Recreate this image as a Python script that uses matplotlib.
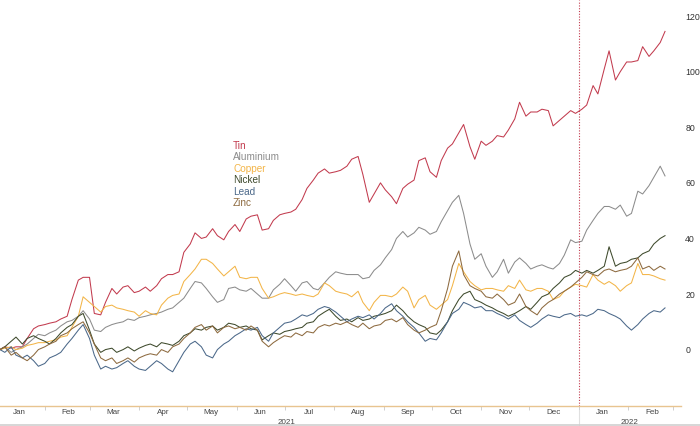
import matplotlib
matplotlib.use("Agg")
import matplotlib.pyplot as plt
import matplotlib.dates as mdates
from matplotlib.lines import Line2D
import pandas as pd

plt.rcParams['font.family'] = ['Liberation Sans Narrow', 'Liberation Sans', 'DejaVu Sans']

# twice-weekly samples (Mon/Thu), % change since start of 2021
dates = pd.date_range('2021-01-04', '2022-02-24', freq='W-MON').union(
    pd.date_range('2021-01-04', '2022-02-24', freq='W-THU'))

tin = [0, 1, 0.5, 1, 1, 4, 7.5, 8.5, 9, 9.5,
       10, 11, 12, 18, 25, 26, 26, 13, 12.5, 17,
       22, 20, 22.5, 23, 20.5, 21, 22.5, 21, 23, 25.5,
       27, 27, 28, 35, 38, 42, 40, 40.5, 43.5, 41,
       39.5, 42.5, 45, 42.5, 47, 48, 48.5, 43, 43.5, 46.5,
       48.5, 49, 49.5, 50.5, 54, 58, 61, 63.5, 65, 63.5,
       64, 64.5, 66, 68.5, 69.5, 63, 53, 56, 60, 57.5,
       55, 52.5, 58, 59.5, 61, 68, 69, 64, 62, 68,
       72.5, 74, 78, 81, 73, 68.5, 75, 73.5, 75, 77,
       76.5, 79, 83, 89, 84, 85.5, 85.5, 86.5, 86, 80.5,
       82.5, 84, 86, 85, 86.5, 88, 95, 92, 101, 107.5,
       97, 100, 103.5, 103.5, 104, 109, 105.5, 107.5, 110.5, 114.5]

aluminium = [0, 1, -1, 0, 1, 2, 4, 5.5, 5, 6,
             7, 8.5, 10, 10.5, 12, 14, 11, 7, 6.5, 8,
             9, 9.5, 10, 11, 10.5, 11.5, 12, 12.5, 13, 13.5,
             14.5, 15, 17, 18.5, 22, 24.5, 24, 22, 19, 17,
             18, 22, 22.5, 21.5, 21, 22, 20, 18.5, 18.5, 21.5,
             23.5, 25.5, 23, 21, 24, 24.5, 22, 21.5, 24, 26,
             28, 27.5, 27, 27, 27, 25.5, 26, 28.5, 30.5, 33,
             36, 40, 42.5, 40.5, 42, 44, 43, 41.5, 42.5, 46,
             50, 53, 55.5, 49, 38, 32.5, 34.5, 30, 26, 28,
             32.5, 27.5, 31.5, 33, 31, 29, 30, 30.5, 29.5, 29,
             31, 34, 39.5, 38.5, 39, 43, 46.5, 49, 51.5, 51.5,
             50.5, 52, 48, 49, 57, 56, 59, 62, 66, 62.5]

copper = [0, 0.5, 1, 0, 0.5, 1.5, 2, 2.5, 2.5, 3,
          3.5, 4.5, 5, 8, 12, 19, 17, 15.5, 13.5, 15.5,
          16, 15, 14.5, 14, 13.5, 12, 14, 13, 12.5, 16,
          18.5, 19.5, 20, 24.5, 27, 29, 32.5, 32.5, 31, 29,
          26.5, 28, 30, 26, 25.5, 26, 26, 22, 18.5, 19,
          20, 20.5, 20, 19.5, 20, 19.5, 19, 20, 24, 23,
          21, 20.5, 20, 19, 21, 17, 14, 17, 19.5, 19.5,
          19, 20, 22.5, 21, 15, 18, 19.5, 16, 14.5, 16,
          18, 23, 31, 28, 24.5, 23, 21.5, 22, 22, 21.5,
          21, 23, 22, 25, 21.5, 21, 22, 22, 21, 18,
          19, 21, 22.5, 23.5, 23, 22.5, 27, 25, 23.5, 24.5,
          23, 21, 23, 24, 31, 27, 27, 26.5, 25.5, 25]

nickel = [0, 1, 3, 4.5, 2, 4, 5, 4, 3, 2,
          4, 6, 8, 9, 12, 13, 7, 2, -1, 0,
          0.5, -1, 0, 1, -0.5, 0.5, 1.5, 2, 1, 2.5,
          2, 1.5, 3, 5, 6, 7.5, 7, 8, 8.5, 7,
          8, 9.5, 9, 8, 8.5, 7.5, 7, 3.5, 5, 6,
          5.5, 6.5, 7, 7.5, 8, 9.5, 10, 12, 13.5, 14.5,
          12, 10.5, 11, 10, 11.5, 10.5, 11, 12, 12.5, 13,
          14, 16, 14, 12, 10, 9, 8, 6, 5.5, 7,
          10, 14, 18, 20, 21, 18, 17, 16, 15, 14,
          13, 12, 13, 14, 15.5, 14.5, 17, 19, 20, 22,
          24, 26, 27, 28.5, 27.5, 28.5, 27.5, 28.5, 30, 37,
          30, 31, 31.5, 32.5, 33, 34.5, 35.5, 38, 40, 41]

lead = [0, -1, 1, -2, -3, -2, -4, -6, -5, -3,
        -2, -1, 2, 4, 7, 9, 4, -2, -7, -6,
        -7, -6.5, -5, -4, -6, -7, -7.5, -6, -4, -5,
        -7, -8, -4, -1, 2, 3, 1, -2, -3, 0,
        2, 3, 5, 6, 7.5, 7, 8, 5, 3, 6,
        8, 9.5, 10, 11, 12.5, 12, 13, 14.5, 15.5, 15,
        13.5, 12, 10, 11, 12, 11.5, 12.5, 11, 13, 15,
        16.5, 14, 12, 10, 8, 6, 3, 4, 3.5, 6,
        10, 13, 14.5, 17, 16, 15, 15.5, 14, 14, 13,
        12, 11, 12.5, 10.5, 9, 8, 9.5, 11, 12.5, 12,
        11.5, 12.5, 13, 12, 12.5, 12, 13, 14.5, 14, 13,
        12, 11, 8.5, 7, 9, 11, 13, 14, 13.5, 15]

zinc = [0, 1, -2, -1, -3, -4, -2, 0, 1, 2,
        3, 5, 6, 7.5, 9, 10, 6, 2, -3, -4,
        -3, -5, -4, -3, -4.5, -3, -2, -1.5, -2, 0,
        -1, 1, 2, 4, 6, 8, 9, 7, 8.5, 6,
        8, 8.5, 7.5, 8, 7, 8.5, 7, 3, 1, 2.5,
        4, 5, 4.5, 6, 5, 6.5, 6, 8, 9, 8.5,
        9.5, 9, 10, 9, 8, 9.5, 7.5, 8.5, 9, 10.5,
        11, 10, 11.5, 9, 7, 6, 7, 8, 9, 14,
        22, 30, 35.5, 27, 23, 22, 21, 19, 18.5, 20,
        18, 16, 17, 20, 15.5, 14, 12.5, 15, 17, 18,
        20, 21, 22.5, 24, 26, 28, 27, 26.5, 28.5, 29,
        28, 28.5, 29, 30, 33, 29, 30, 28.5, 30, 29]

names = ['Tin', 'Aluminium', 'Copper', 'Nickel', 'Lead', 'Zinc']
series = [tin, aluminium, copper, nickel, lead, zinc]
colors = ['#c23b4e', '#8c8c8c', '#f3b548', '#3e4a2c', '#4b6889', '#8d6a3f']

fig = plt.figure(figsize=(7, 4.26), dpi=100)
ax = fig.add_axes([0, 20 / 426, 681 / 700, 406 / 426])

for name, vals, c in zip(names, series, colors):
    ax.plot(dates, vals, color=c, lw=0.75, label=name)

ax.set_xlim(pd.Timestamp('2021-01-04'), pd.Timestamp('2022-03-06'))
ax.set_ylim(-20.3, 125.8)

ax.axvline(pd.Timestamp('2022-01-01'), color='#c23b4e', lw=0.8, ls=(0, (1, 1.5)))

for s in ['top', 'left', 'right']:
    ax.spines[s].set_visible(False)
ax.spines['bottom'].set_color('#e8c490')
ax.spines['bottom'].set_linewidth(1.0)

ax.yaxis.tick_right()
ax.set_yticks(range(0, 121, 20))
ax.tick_params(axis='y', length=0, pad=3, labelsize=6.3, labelcolor='#333333')

ax.xaxis.set_major_locator(mdates.MonthLocator())
ax.xaxis.set_major_formatter(plt.NullFormatter())
ax.xaxis.set_minor_locator(mdates.MonthLocator(bymonthday=16))
ax.xaxis.set_minor_formatter(mdates.DateFormatter('%b'))
ax.tick_params(axis='x', which='major', length=3, color='#c8c8c8', width=0.6)
ax.tick_params(axis='x', which='minor', length=0, pad=2.5, labelsize=5.8, labelcolor='#444444')

# year labels and separator under the axis
ax.text(pd.Timestamp('2021-07-02'), -0.04, '2021', transform=ax.get_xaxis_transform(),
        ha='center', va='center', fontsize=5.8, color='#444444')
ax.text(pd.Timestamp('2022-02-02'), -0.04, '2022', transform=ax.get_xaxis_transform(),
        ha='center', va='center', fontsize=5.8, color='#444444')
ax.add_line(Line2D([pd.Timestamp('2022-01-01')] * 2, [-0.01, -0.05],
                   transform=ax.get_xaxis_transform(), clip_on=False,
                   color='#e0e0e0', lw=0.8))
fig.add_artist(Line2D([0, 1], [1 / 426, 1 / 426], color='#d0d0d0', lw=1.2))

leg = ax.legend(loc='upper left', bbox_to_anchor=(233 / 681, 1 - 141 / 406),
                frameon=False, handlelength=0, handletextpad=0, borderpad=0,
                borderaxespad=0, labelspacing=0.14, fontsize=7.2, labelcolor='linecolor')
for h in leg.legend_handles:
    h.set_visible(False)

fig.savefig('out.png', dpi=100, facecolor='white')
